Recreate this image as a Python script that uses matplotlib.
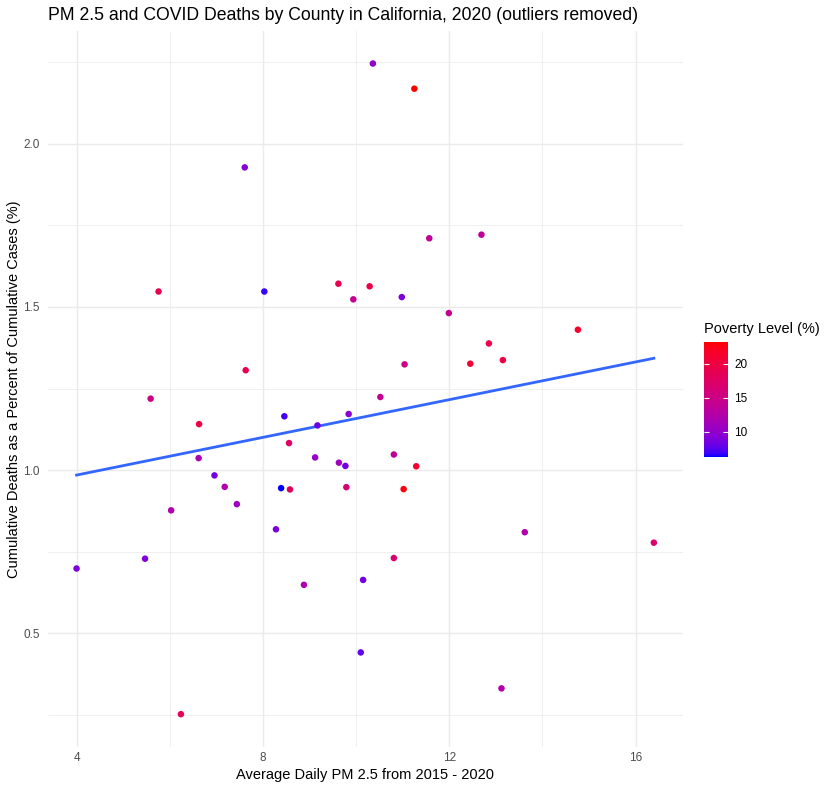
import numpy as np
import matplotlib
matplotlib.use("Agg")
import matplotlib.pyplot as plt
from matplotlib.colors import ListedColormap, Normalize

# county values
pm25 = [10.36, 11.25, 7.61, 5.76, 8.03, 9.62, 9.94, 10.29, 10.98, 11.57,
        12.69, 11.99, 14.76, 12.85, 12.45, 13.15, 7.63, 11.04, 5.59, 10.52,
        6.63, 8.46, 9.17, 9.84, 8.56, 6.62, 9.12, 9.63, 9.77, 10.81,
        11.29, 6.96, 7.18, 8.39, 8.58, 9.79, 11.02, 7.44, 6.03, 8.28,
        5.47, 10.81, 4.00, 8.88, 10.15, 13.62, 16.39, 10.10, 13.12, 6.24]
death_pct = [2.245, 2.168, 1.927, 1.547, 1.547, 1.571, 1.523, 1.563, 1.530, 1.710,
             1.721, 1.481, 1.430, 1.388, 1.326, 1.337, 1.306, 1.324, 1.219, 1.224,
             1.141, 1.165, 1.137, 1.172, 1.083, 1.037, 1.039, 1.023, 1.013, 1.048,
             1.012, 0.984, 0.949, 0.945, 0.941, 0.948, 0.942, 0.896, 0.877, 0.819,
             0.729, 0.731, 0.699, 0.649, 0.664, 0.810, 0.778, 0.442, 0.332, 0.253]
poverty = [10.0, 23.3, 9.2, 19.0, 6.8, 19.0, 14.0, 19.5, 8.8, 13.8,
           13.5, 14.3, 21.5, 19.5, 21.0, 20.0, 19.0, 15.0, 15.0, 14.0,
           20.0, 7.0, 8.0, 9.5, 17.5, 12.0, 10.3, 11.0, 8.3, 13.8,
           21.0, 8.5, 12.3, 6.27, 18.0, 16.8, 22.8, 10.8, 12.2, 8.7,
           9.0, 16.7, 8.8, 12.0, 8.5, 12.5, 17.0, 7.8, 12.5, 18.5]
cbar_ticks = [10, 15, 20]
x_ticks = [4, 8, 12, 16]
y_ticks = [0.5, 1.0, 1.5, 2.0]


def srgb_to_lab(rgb):
    c = np.asarray(rgb, dtype=float)
    lin = np.where(c <= 0.04045, c / 12.92, ((c + 0.055) / 1.055) ** 2.4)
    m = np.array([[0.4124, 0.3576, 0.1805],
                  [0.2126, 0.7152, 0.0722],
                  [0.0193, 0.1192, 0.9505]])
    xyz = m @ lin / np.array([0.95047, 1.0, 1.08883])
    d = 6 / 29
    f = np.where(xyz > d ** 3, np.cbrt(xyz), xyz / (3 * d * d) + 4 / 29)
    return np.array([116 * f[1] - 16, 500 * (f[0] - f[1]), 200 * (f[1] - f[2])])


def lab_to_srgb(lab):
    L, a, b = lab
    fy = (L + 16) / 116
    fx = fy + a / 500
    fz = fy - b / 200
    d = 6 / 29
    f = np.array([fx, fy, fz])
    xyz = np.where(f > d, f ** 3, 3 * d * d * (f - 4 / 29))
    xyz = xyz * np.array([0.95047, 1.0, 1.08883])
    m = np.array([[3.2406, -1.5372, -0.4986],
                  [-0.9689, 1.8758, 0.0415],
                  [0.0557, -0.2040, 1.0570]])
    lin = np.clip(m @ xyz, 0, 1)
    c = np.where(lin <= 0.0031308, 12.92 * lin, 1.055 * lin ** (1 / 2.4) - 0.055)
    return np.clip(c, 0, 1)


# blue -> red gradient interpolated in Lab, like ggplot's scale_colour_gradient
lab_lo = srgb_to_lab([0, 0, 1])
lab_hi = srgb_to_lab([1, 0, 0])
cmap = ListedColormap([lab_to_srgb(lab_lo + t * (lab_hi - lab_lo))
                       for t in np.linspace(0, 1, 256)])

x = np.array(pm25)
y = np.array(death_pct)
pov = np.array(poverty)

W, H = 835, 789
fig = plt.figure(figsize=(W / 100, H / 100), dpi=100)
plt.rcParams['font.family'] = ['Liberation Sans', 'DejaVu Sans']

p_left, p_right, p_top, p_bot = 47.7, 682.7, 31.0, 746.7
ax = fig.add_axes([p_left / W, 1 - p_bot / H, (p_right - p_left) / W, (p_bot - p_top) / H])

# ggplot default 5% expansion
xr = x.max() - x.min()
yr = y.max() - y.min()
ax.set_xlim(x.min() - 0.05 * xr, x.max() + 0.05 * xr)
ax.set_ylim(y.min() - 0.05 * yr, y.max() + 0.05 * yr)

for s in ax.spines.values():
    s.set_visible(False)
ax.set_xticks(x_ticks)
ax.set_yticks(y_ticks)
ax.set_xticks([6, 10, 14], minor=True)
ax.set_yticks([0.25, 0.75, 1.25, 1.75, 2.25], minor=True)
ax.set_yticklabels([f"{v:.1f}" for v in y_ticks])
ax.tick_params(which='both', length=0)
ax.tick_params(axis='x', labelsize=8.45, labelcolor='#4d4d4d', pad=3.8)
ax.tick_params(axis='y', labelsize=8.45, labelcolor='#4d4d4d', pad=5.8)
ax.grid(which='major', color='#ebebeb', linewidth=1.05)
ax.grid(which='minor', color='#ebebeb', linewidth=0.55)
ax.set_axisbelow(True)

# linear fit (geom_smooth method = "lm")
slope, intercept = np.polyfit(x, y, 1)
xs = np.array([x.min(), x.max()])
ax.plot(xs, intercept + slope * xs, color='#3366FF', linewidth=2.0, zorder=2)

norm = Normalize(vmin=pov.min(), vmax=pov.max())
sc = ax.scatter(x, y, c=pov, cmap=cmap, norm=norm, s=22, linewidths=0, zorder=3)

fig.text(p_left / W, 1 - 20 / H,
         "PM 2.5 and COVID Deaths by County in California, 2020 (outliers removed)",
         fontsize=12.67, va='baseline', ha='left')
fig.text((p_left + p_right) / 2 / W, 1 - 779 / H,
         "Average Daily PM 2.5 from 2015 - 2020",
         fontsize=10.56, va='baseline', ha='center')
fig.text(14.5 / W, 1 - (p_top + p_bot) / 2 / H,
         "Cumulative Deaths as a Percent of Cumulative Cases (%)",
         fontsize=10.56, va='center', ha='center', rotation=90)

# colour bar legend
cax = fig.add_axes([704.3 / W, 1 - 456.7 / H, 23.4 / W, 115 / H])
cb = fig.colorbar(sc, cax=cax)
cb.outline.set_visible(False)
cb.set_ticks(cbar_ticks)
cax.tick_params(axis='y', direction='in', length=3.4, width=0.8, color='white',
                left=True, right=True, labelleft=False, labelright=True,
                labelsize=8.45, labelcolor='black', pad=4.7)
fig.text(704.3 / W, 1 - 333.3 / H, "Poverty Level (%)", fontsize=10.56,
         va='baseline', ha='left')

fig.savefig("out.png", dpi=100)
